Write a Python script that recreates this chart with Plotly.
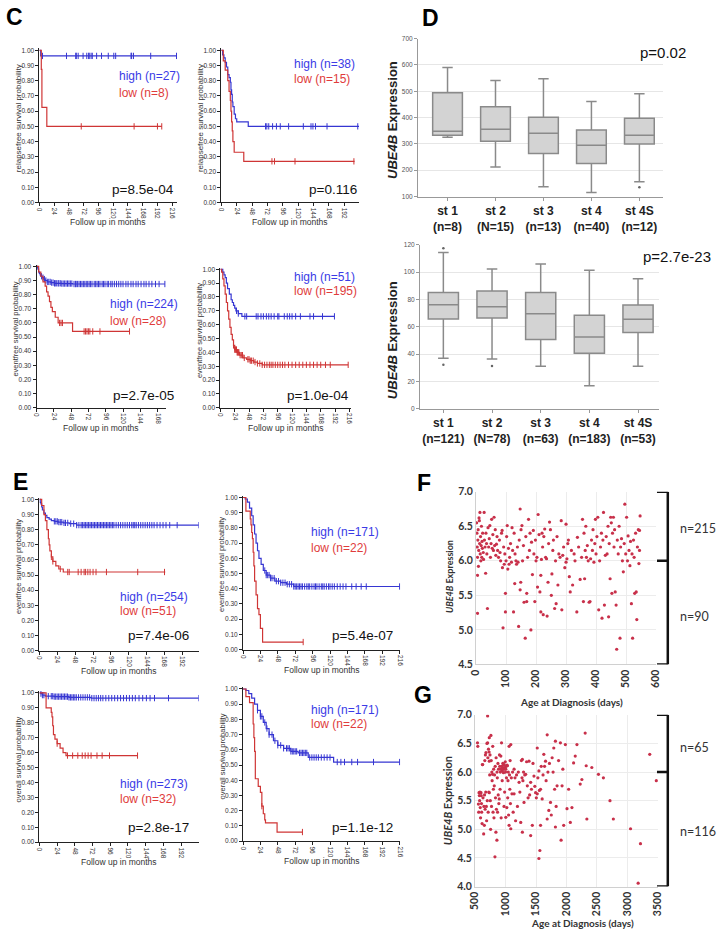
import numpy as np
import plotly.graph_objects as go

W, H = 720, 937
FONT = "Liberation Sans, Arial, sans-serif"
CAL = "Lato, Carlito, sans-serif"
BLUE = "#3636d2"
RED = "#cf3535"
BLUE_T = "#3b3be6"
RED_T = "#e03c3c"

# ---------------- Kaplan-Meier data (months, survival) ----------------
c1_hi_t = [2]
c1_hi_s = [0.963]
c1_hi_end = 223
c1_hi_cens = [5, 44, 59, 60, 63, 71, 77, 80, 81, 84, 86, 93, 101, 112, 121, 124, 149, 150, 153, 181, 223]
c1_lo_t = [3, 4, 12]
c1_lo_s = [0.875, 0.625, 0.5]
c1_lo_end = 199
c1_lo_cens = [68, 154, 192, 199]

c2_hi_t = [2, 4, 6, 8, 10, 12, 14, 15, 16, 17, 18, 20, 22, 24, 42]
c2_hi_s = [0.97, 0.95, 0.92, 0.89, 0.84, 0.82, 0.79, 0.74, 0.71, 0.66, 0.63, 0.58, 0.55, 0.53, 0.50]
c2_hi_end = 215
c2_hi_cens = [69, 71, 74, 80, 86, 92, 105, 128, 140, 143, 147, 165, 213]
c2_lo_t = [3, 6, 10, 12, 14, 15, 16, 17, 18, 20, 35]
c2_lo_s = [0.93, 0.87, 0.80, 0.73, 0.67, 0.60, 0.53, 0.47, 0.40, 0.33, 0.27]
c2_lo_end = 208
c2_lo_cens = [79, 83, 115, 207]

c3_hi_t = [1, 2, 3, 4, 5, 6, 8, 10, 12, 15, 20, 25, 35, 50]
c3_hi_s = [0.99, 0.98, 0.96, 0.95, 0.94, 0.93, 0.92, 0.91, 0.90, 0.89, 0.885, 0.88, 0.878, 0.875]
c3_hi_end = 178
c3_hi_cens = [7, 9, 11, 13, 15, 17, 19, 21, 23, 25, 26, 28, 30, 31, 33, 35, 37, 39, 41, 43, 45, 47, 49, 52,
              54, 55, 57, 59, 61, 63, 65, 67, 69, 71, 73, 75, 77, 80, 82, 84, 86, 88, 91, 93, 95, 98, 100,
              103, 105, 108, 111, 114, 117, 120, 124, 127, 131, 134, 138, 141, 145, 149, 152, 156, 160, 165, 170, 178]
c3_lo_t = [3, 6, 9, 12, 14, 16, 18, 20, 22, 26, 30, 50]
c3_lo_s = [0.96, 0.93, 0.89, 0.86, 0.82, 0.79, 0.75, 0.71, 0.68, 0.64, 0.60, 0.54]
c3_lo_end = 129
c3_lo_cens = [32, 34, 36, 66, 68, 70, 72, 74, 78, 88, 129]

c4_hi_t = [4, 6, 8, 10, 12, 15, 18, 20, 22, 24, 26, 30, 36]
c4_hi_s = [0.98, 0.96, 0.94, 0.90, 0.86, 0.82, 0.78, 0.76, 0.74, 0.72, 0.70, 0.68, 0.66]
c4_hi_end = 191
c4_hi_cens = [27, 30, 41, 44, 60, 63, 68, 72, 77, 81, 85, 90, 96, 98, 107, 112, 116, 120, 126, 134, 150, 156, 171, 191]
c4_lo_t = [2, 4, 6, 8, 10, 12, 14, 16, 18, 20, 22, 24, 28, 32, 38, 44, 50, 56, 62, 70]
c4_lo_s = [0.98, 0.93, 0.88, 0.82, 0.76, 0.70, 0.64, 0.58, 0.53, 0.49, 0.45, 0.42, 0.40, 0.38, 0.36, 0.35, 0.34, 0.33, 0.32, 0.31]
c4_lo_end = 214
c4_lo_cens = [22, 24, 25, 26, 27, 28, 29, 30, 31, 33, 35, 37, 40, 46, 48, 50, 52, 55, 58, 62, 66, 70, 74, 78,
              82, 85, 88, 92, 96, 100, 104, 108, 114, 120, 126, 132, 138, 144, 150, 156, 162, 168, 176, 184, 214]

e1_hi_t = [1, 2, 3, 4, 6, 8, 10, 13, 16, 20, 25, 32, 40, 50]
e1_hi_s = [0.98, 0.97, 0.95, 0.93, 0.91, 0.895, 0.88, 0.87, 0.86, 0.855, 0.85, 0.845, 0.84, 0.83]
e1_hi_end = 214
e1_hi_cens = [20, 22, 24, 26, 28, 30, 33, 35, 38, 42, 46, 50, 53, 56, 58, 60, 62, 64, 66, 68, 70, 72, 74, 76,
              78, 80, 82, 84, 86, 88, 90, 92, 94, 96, 98, 100, 103, 106, 109, 112, 115, 118, 121, 124, 126,
              128, 130, 133, 136, 139, 142, 145, 148, 151, 154, 158, 162, 166, 170, 175, 185, 214]
e1_lo_t = [3, 6, 8, 10, 12, 13, 14, 16, 18, 22, 26, 32]
e1_lo_s = [0.96, 0.90, 0.86, 0.80, 0.74, 0.70, 0.66, 0.62, 0.59, 0.56, 0.54, 0.52]
e1_lo_end = 169
e1_lo_cens = [16, 18, 28, 38, 40, 52, 56, 60, 62, 65, 68, 72, 76, 90, 132, 168]

e2_hi_t = [3, 6, 9, 12, 14, 16, 18, 20, 22, 25, 28, 32, 38, 44, 52, 60, 70]
e2_hi_s = [0.99, 0.97, 0.93, 0.88, 0.82, 0.76, 0.70, 0.65, 0.60, 0.56, 0.52, 0.49, 0.47, 0.45, 0.44, 0.43, 0.415]
e2_hi_end = 216
e2_hi_cens = [30, 32, 34, 36, 38, 40, 43, 46, 49, 52, 55, 58, 61, 64, 67, 70, 72, 74, 76, 78, 80, 82, 85, 88,
              90, 92, 95, 98, 100, 102, 105, 108, 110, 112, 115, 118, 120, 123, 126, 130, 134, 138, 142, 150,
              156, 163, 170, 216]
e2_lo_t = [4, 10, 11, 12, 13, 14, 15, 16, 18, 20, 22, 24, 27]
e2_lo_s = [0.91, 0.86, 0.82, 0.77, 0.73, 0.64, 0.55, 0.45, 0.36, 0.27, 0.23, 0.14, 0.05]
e2_lo_end = 83
e2_lo_cens = [83]

e3_hi_t = [2, 4, 8, 20, 40, 70]
e3_hi_s = [0.995, 0.985, 0.978, 0.975, 0.97, 0.965]
e3_hi_end = 216
e3_hi_cens = [2, 4, 6, 12, 16, 18, 20, 22, 24, 26, 28, 30, 32, 34, 36, 38, 40, 42, 44, 46, 48, 50, 53, 56, 59,
              62, 65, 68, 71, 74, 77, 80, 83, 86, 90, 94, 98, 102, 106, 110, 114, 118, 122, 126, 130, 135, 140,
              145, 150, 156, 175, 216]
e3_lo_t = [9, 16, 17, 18, 19, 21, 24, 28, 32, 36]
e3_lo_s = [0.90, 0.87, 0.84, 0.78, 0.72, 0.69, 0.66, 0.63, 0.60, 0.58]
e3_lo_end = 133
e3_lo_cens = [24, 38, 45, 52, 58, 62, 66, 70, 78, 85, 95, 133]

e4_hi_t = [4, 8, 12, 16, 20, 24, 28, 32, 36, 42, 48, 56, 66, 76, 90, 125]
e4_hi_s = [0.99, 0.97, 0.94, 0.90, 0.86, 0.82, 0.78, 0.74, 0.70, 0.66, 0.63, 0.61, 0.59, 0.58, 0.55, 0.52]
e4_hi_end = 216
e4_hi_cens = [20, 24, 26, 30, 33, 36, 40, 44, 48, 52, 56, 60, 62, 64, 66, 68, 70, 72, 74, 78, 80, 82, 84, 86,
              88, 92, 95, 98, 101, 104, 108, 112, 116, 120, 130, 135, 140, 150, 158, 180, 216]
e4_lo_t = [4, 9, 14, 15, 16, 17, 21, 24, 26, 28, 30, 31, 47]
e4_lo_s = [0.95, 0.91, 0.77, 0.68, 0.59, 0.41, 0.36, 0.32, 0.23, 0.18, 0.14, 0.12, 0.06]
e4_lo_end = 82
e4_lo_cens = [26, 82]

# ---------------- Panel D box statistics ----------------
d1_cats = ["st 1<br>(n=8)", "st 2<br>(N=15)", "st 3<br>(n=13)", "st 4<br>(n=40)", "st 4S<br>(n=12)"]
d1_low = [325, 212, 137, 115, 156]
d1_q1 = [333, 310, 263, 225, 300]
d1_med = [348, 356, 340, 295, 333]
d1_q3 = [494, 441, 401, 353, 397]
d1_up = [590, 541, 547, 461, 490]
d1_out_cat = ["st 4S<br>(n=12)"]
d1_out_val = [135]

d2_cats = ["st 1<br>(n=121)", "st 2<br>(N=78)", "st 3<br>(n=63)", "st 4<br>(n=183)", "st 4S<br>(n=53)"]
d2_low = [37.0, 36.5, 31.2, 16.9, 31.2]
d2_q1 = [65.8, 66.5, 50.8, 40.6, 55.9]
d2_med = [76.2, 74.8, 69.5, 52.5, 65.6]
d2_q3 = [85.2, 86.2, 85.2, 68.5, 76.0]
d2_up = [114.4, 102.3, 106.0, 101.4, 95.2]
d2_out_cat = ["st 1<br>(n=121)", "st 1<br>(n=121)", "st 2<br>(N=78)"]
d2_out_val = [117.6, 32.2, 31.4]

# ---------------- Panel F / G scatter (age days, UBE4B expression) ----------------
f_points = [
    (2, 6.55), (3, 6.40), (4, 6.20), (5, 6.05), (5, 5.79), (5, 5.24), (6, 6.30), (7, 6.45), (8, 5.92), (9, 6.15),
    (10, 6.62), (11, 6.58), (12, 6.25), (13, 6.70), (14, 6.10), (15, 6.35), (16, 6.00), (17, 6.22), (18, 6.50),
    (19, 6.05), (20, 6.28), (21, 6.18), (22, 6.40), (24, 6.12), (25, 6.02), (27, 6.70), (28, 6.30), (30, 6.20),
    (32, 5.82), (33, 6.40), (35, 6.25), (36, 6.10), (38, 5.31), (40, 6.48), (42, 6.20), (44, 6.32), (46, 6.51),
    (48, 6.05), (50, 6.25), (52, 6.60), (54, 6.18), (56, 6.38), (58, 6.15), (60, 6.63), (62, 6.22), (64, 6.45),
    (66, 6.08), (68, 6.24), (70, 6.35), (72, 6.15), (75, 6.05), (78, 6.30), (80, 6.12), (82, 6.00), (85, 6.40),
    (87, 6.44), (88, 5.90), (90, 5.03), (92, 6.20), (94, 5.95), (96, 6.10), (98, 5.53), (98, 5.26), (100, 6.00),
    (102, 6.35), (104, 6.51), (106, 5.88), (108, 6.18), (110, 5.95), (112, 6.05), (115, 6.25), (118, 5.98),
    (120, 6.48), (122, 6.15), (125, 5.26), (127, 6.40), (129, 5.67), (130, 6.10), (133, 6.00), (135, 5.95),
    (138, 6.20), (140, 5.98), (142, 5.05), (144, 6.30), (147, 6.75), (147, 5.58), (149, 5.69), (150, 6.45),
    (153, 6.51), (155, 6.00), (158, 6.22), (160, 5.40), (164, 4.88), (166, 6.35), (169, 5.53), (169, 5.41),
    (172, 6.05), (175, 6.60), (178, 6.15), (180, 6.40), (183, 5.00), (185, 6.27), (188, 5.80), (191, 6.44),
    (193, 6.10), (196, 5.41), (198, 6.30), (200, 6.00), (203, 6.05), (205, 5.62), (207, 6.67), (210, 6.38),
    (213, 5.55), (216, 5.79), (216, 5.26), (218, 6.02), (220, 6.40), (222, 6.20), (224, 5.22), (226, 6.35),
    (229, 6.46), (232, 6.05), (235, 6.03), (237, 5.20), (240, 5.69), (242, 6.25), (245, 6.56), (248, 6.45),
    (251, 5.50), (253, 5.81), (256, 6.15), (258, 6.30), (262, 5.31), (265, 6.00), (267, 5.38), (270, 6.35),
    (273, 5.65), (276, 6.10), (280, 6.05), (284, 6.58), (286, 5.29), (289, 6.08), (292, 6.20), (296, 5.90),
    (300, 6.53), (300, 5.98), (303, 6.03), (306, 6.25), (308, 6.30), (311, 5.77), (314, 5.55), (318, 6.15),
    (322, 5.65), (327, 6.10), (330, 6.00), (336, 5.26), (338, 6.34), (342, 6.20), (347, 5.73), (352, 6.05),
    (355, 6.60), (358, 5.41), (360, 6.40), (362, 5.74), (364, 6.15), (366, 6.50), (368, 6.05), (371, 6.22),
    (374, 6.00), (377, 5.40), (380, 5.41), (382, 6.03), (385, 6.30), (388, 6.15), (390, 6.45), (393, 5.98),
    (396, 6.25), (398, 6.60), (400, 6.10), (403, 6.35), (406, 6.63), (409, 5.29), (412, 6.00), (415, 6.20),
    (418, 6.40), (420, 5.17), (423, 6.30), (425, 6.70), (428, 5.36), (431, 6.08), (434, 6.35), (437, 6.10),
    (440, 6.50), (442, 5.19), (444, 6.25), (447, 5.74), (449, 6.63), (451, 6.55), (453, 5.53), (455, 6.40),
    (458, 6.63), (460, 6.20), (462, 6.45), (464, 5.55), (467, 5.36), (469, 4.72), (471, 6.30), (474, 6.10),
    (477, 6.50), (480, 4.88), (482, 6.20), (485, 6.32), (488, 6.00), (491, 5.84), (494, 6.25), (496, 6.82),
    (499, 6.10), (502, 6.63), (505, 6.00), (507, 6.36), (510, 6.15), (513, 5.93), (515, 6.28), (518, 5.38),
    (520, 6.10), (522, 4.88), (525, 6.30), (527, 6.05), (529, 5.53), (532, 6.40), (534, 5.55), (536, 5.15),
    (538, 6.20), (541, 6.45), (543, 5.96), (545, 6.44), (545, 6.15), (547, 6.65),
]
f_age = [p[0] for p in f_points]
f_expr = [p[1] for p in f_points]

g_points = [
    (540, 6.51), (545, 6.45), (555, 5.44), (560, 5.30), (565, 5.64), (570, 5.59), (575, 5.50), (580, 5.65),
    (585, 5.38), (590, 5.20), (598, 5.64), (600, 5.59), (605, 5.45), (608, 5.30), (615, 5.10), (620, 6.13),
    (625, 6.13), (630, 5.55), (641, 4.92), (645, 5.40), (652, 5.07), (655, 5.60), (660, 6.20), (665, 5.35),
    (670, 6.30), (675, 5.65), (679, 6.34), (685, 5.40), (690, 5.15), (695, 6.50), (700, 5.50), (706, 6.98),
    (706, 6.51), (710, 6.25), (715, 5.30), (720, 6.40), (725, 5.65), (730, 6.35), (733, 6.60), (733, 6.19),
    (733, 5.64), (740, 5.95), (745, 6.30), (750, 5.50), (755, 5.00), (760, 6.64), (765, 6.20), (770, 5.40),
    (775, 6.00), (780, 5.85), (787, 5.96), (790, 6.45), (795, 5.30), (800, 5.70), (805, 6.05), (810, 5.20),
    (815, 5.76), (820, 5.95), (826, 4.52), (830, 6.10), (835, 5.55), (842, 4.95), (845, 6.25), (850, 5.35),
    (858, 4.81), (860, 6.00), (865, 5.90), (869, 5.30), (875, 6.15), (880, 5.60), (885, 6.05), (890, 5.45),
    (896, 5.53), (900, 6.30), (905, 6.10), (910, 5.70), (915, 6.00), (920, 6.05), (923, 6.28), (928, 5.20),
    (934, 6.51), (938, 6.10), (942, 6.02), (945, 5.85), (950, 6.08), (955, 6.15), (960, 6.05), (966, 5.99),
    (970, 6.12), (975, 5.40), (977, 6.13), (980, 6.05), (985, 5.65), (990, 6.08), (995, 6.18), (1000, 6.00),
    (1004, 6.05), (1004, 5.21), (1010, 6.10), (1015, 5.90), (1021, 5.38), (1025, 6.12), (1031, 6.11),
    (1035, 5.55), (1040, 5.85), (1045, 6.00), (1050, 5.25), (1058, 6.45), (1058, 5.07), (1065, 5.95),
    (1070, 5.70), (1075, 6.20), (1080, 5.45), (1086, 6.48), (1086, 5.01), (1095, 5.90), (1105, 5.62),
    (1115, 6.00), (1125, 5.30), (1140, 6.05), (1140, 5.62), (1155, 5.90), (1165, 5.15), (1180, 5.95),
    (1195, 5.40), (1210, 6.00), (1222, 5.82), (1235, 5.65), (1249, 5.12), (1260, 6.20), (1270, 5.90),
    (1276, 6.22), (1276, 4.95), (1285, 5.85), (1295, 6.00), (1303, 5.47), (1315, 5.95), (1330, 5.96),
    (1345, 6.18), (1357, 5.76), (1370, 5.55), (1385, 6.19), (1395, 5.60), (1412, 5.82), (1412, 4.89),
    (1425, 5.70), (1439, 5.07), (1450, 6.15), (1466, 5.93), (1480, 5.75), (1493, 5.64), (1505, 5.55),
    (1520, 6.42), (1520, 5.62), (1530, 5.90), (1547, 6.02), (1547, 4.49), (1555, 5.68), (1563, 4.63),
    (1574, 5.70), (1574, 5.07), (1585, 6.10), (1601, 5.53), (1615, 5.95), (1628, 6.31), (1640, 6.10),
    (1656, 6.19), (1665, 5.85), (1683, 6.65), (1683, 5.18), (1695, 6.00), (1710, 5.33), (1720, 6.15),
    (1737, 5.47), (1750, 5.25), (1764, 6.25), (1780, 6.00), (1791, 6.42), (1805, 5.70), (1818, 6.54),
    (1818, 5.04), (1830, 5.40), (1845, 5.76), (1870, 6.20), (1900, 6.51), (1911, 4.81), (1927, 5.76),
    (1940, 6.05), (1954, 5.07), (1981, 6.48), (2008, 5.36), (2035, 5.70), (2062, 5.12), (2089, 5.38),
    (2116, 6.16), (2143, 6.28), (2171, 6.48), (2225, 5.79), (2252, 5.87), (2306, 6.68), (2323, 6.11),
    (2334, 5.18), (2415, 6.08), (2524, 5.96), (2605, 5.90), (2713, 5.50), (2768, 5.18), (3050, 5.01),
    (3175, 4.06), (3213, 4.75), (3365, 6.31), (3473, 5.85),
]
g_age = [p[0] for p in g_points]
g_expr = [p[1] for p in g_points]

f_split = 6.0
f_labels = ["n=215", "n=90"]
g_labels = ["n=65", "n=116"]

# ---------------- helpers ----------------
fig = go.Figure()
layout = {}
ann = []
shapes = []


def names(i):
    return ("x", "y") if i == 1 else (f"x{i}", f"y{i}")


def keys(i):
    return ("xaxis", "yaxis") if i == 1 else (f"xaxis{i}", f"yaxis{i}")


def dx(a, b):
    return [a / W, b / W]


def dy(top, bottom):
    return [1 - bottom / H, 1 - top / H]


def pann(text, x, y, size, color="#111", xanchor="center", yanchor="middle", bold=False, family=FONT, angle=0):
    ann.append(dict(text=text, x=x / W, y=1 - y / H, xref="paper", yref="paper", showarrow=False,
                    xanchor=xanchor, yanchor=yanchor, textangle=angle,
                    font=dict(size=size, color=color, family=family, weight="bold" if bold else "normal")))


def step_xy(t, s, end):
    return [0] + list(t) + [end], [1.0] + list(s) + [s[-1]]


def surv_at(t, s, c):
    i = int(np.searchsorted(np.array(t), c, side="right"))
    return 1.0 if i == 0 else s[i - 1]


def add_km(ax, px, py, xmax, tmax, ylab, hi, lo, hi_txt, lo_txt, p_txt, tx, hy, ly, p_x, p_y, ylab_size):
    xa, ya = names(ax)
    xk, yk = keys(ax)
    ymax = 1.012
    layout[xk] = dict(domain=dx(*px), range=[0, xmax], anchor=ya, tickvals=list(range(0, tmax + 1, 24)),
                      tickangle=90, tickfont=dict(size=6.5, color="#333", family=FONT), showline=True,
                      linecolor="#222", linewidth=1, ticks="outside", ticklen=3, tickcolor="#222",
                      showgrid=False, zeroline=False)
    layout[yk] = dict(domain=dy(*py), range=[0, ymax], anchor=xa, tickvals=[i / 10 for i in range(11)],
                      tickformat=".2f", tickfont=dict(size=6.5, color="#333", family=FONT), showline=True,
                      linecolor="#222", linewidth=1, ticks="outside", ticklen=3, tickcolor="#222",
                      showgrid=False, zeroline=False)
    for (t, s, end, cens), col in ((hi, BLUE), (lo, RED)):
        x, y = step_xy(t, s, end)
        fig.add_trace(go.Scatter(x=x, y=y, mode="lines", line=dict(color=col, width=1.2, shape="hv"),
                                 xaxis=xa, yaxis=ya, hoverinfo="skip"))
        fig.add_trace(go.Scatter(x=cens, y=[surv_at(t, s, c) for c in cens], mode="markers",
                                 marker=dict(symbol="line-ns", size=4.5, line=dict(color=col, width=1)),
                                 xaxis=xa, yaxis=ya, hoverinfo="skip"))
    ref = dict(xref=f"{xa} domain", yref=f"{ya} domain", showarrow=False)
    ann.append(dict(text=hi_txt, x=tx / xmax, y=hy / ymax, xanchor="left", yanchor="middle",
                    font=dict(size=12, color=BLUE_T, family=FONT), **ref))
    ann.append(dict(text=lo_txt, x=tx / xmax, y=ly / ymax, xanchor="left", yanchor="middle",
                    font=dict(size=12, color=RED_T, family=FONT), **ref))
    ann.append(dict(text=p_txt, x=p_x / xmax, y=p_y / ymax, xanchor="right", yanchor="middle",
                    font=dict(size=13.5, color="#111", family=FONT), **ref))
    ann.append(dict(text="Follow up in months", x=0.5, y=0, yshift=-20, xanchor="center", yanchor="middle",
                    font=dict(size=8.5, color="#333", family=FONT), **ref))
    ann.append(dict(text=ylab, x=0, y=0.55, xshift=-21, textangle=-90, xanchor="center", yanchor="middle",
                    font=dict(size=ylab_size, color="#333", family=FONT), **ref))


RF = "relapsefree survival probability"
EF = "eventfree survival probability"
OS = "overall survival probability"

add_km(1, (33, 173), (43, 199), 224, 216, RF,
       (c1_hi_t, c1_hi_s, c1_hi_end, c1_hi_cens), (c1_lo_t, c1_lo_s, c1_lo_end, c1_lo_cens),
       "high (n=27)", "low (n=8)", "p=8.5e-04", 126, 0.83, 0.72, 222, 0.083, 8)
add_km(2, (218, 358), (43, 199), 215, 192, RF,
       (c2_hi_t, c2_hi_s, c2_hi_end, c2_hi_cens), (c2_lo_t, c2_lo_s, c2_lo_end, c2_lo_cens),
       "high (n=38)", "low (n=15)", "p=0.116", 110, 0.907, 0.81, 215, 0.083, 8)
add_km(3, (30, 162), (262, 407), 180, 168, EF,
       (c3_hi_t, c3_hi_s, c3_hi_end, c3_hi_cens), (c3_lo_t, c3_lo_s, c3_lo_end, c3_lo_cens),
       "high (n=224)", "low (n=28)", "p=2.7e-05", 99, 0.731, 0.617, 194, 0.09, 7.5)
add_km(4, (217, 350), (265, 407), 219, 216, EF,
       (c4_hi_t, c4_hi_s, c4_hi_end, c4_hi_cens), (c4_lo_t, c4_lo_s, c4_lo_end, c4_lo_cens),
       "high (n=51)", "low (n=195)", "p=1.0e-04", 120, 0.947, 0.842, 219, 0.09, 7.5)
add_km(7, (33, 195), (498, 653), 214, 192, EF,
       (e1_hi_t, e1_hi_s, e1_hi_end, e1_hi_cens), (e1_lo_t, e1_lo_s, e1_lo_end, e1_lo_cens),
       "high (n=254)", "low (n=51)", "p=7.4e-06", 106, 0.358, 0.261, 204, 0.10, 7.5)
add_km(8, (240, 400), (496, 652), 217, 216, EF,
       (e2_hi_t, e2_hi_s, e2_hi_end, e2_hi_cens), (e2_lo_t, e2_lo_s, e2_lo_end, e2_lo_cens),
       "high (n=171)", "low (n=22)", "p=5.4e-07", 91, 0.776, 0.67, 210, 0.093, 7.5)
add_km(9, (33, 195), (694, 847), 216, 192, OS,
       (e3_hi_t, e3_hi_s, e3_hi_end, e3_hi_cens), (e3_lo_t, e3_lo_s, e3_lo_end, e3_lo_cens),
       "high (n=273)", "low (n=32)", "p=2.8e-17", 106, 0.389, 0.291, 205, 0.095, 7.5)
add_km(10, (240, 400), (690, 846), 217, 216, OS,
       (e4_hi_t, e4_hi_s, e4_hi_end, e4_hi_cens), (e4_lo_t, e4_lo_s, e4_lo_end, e4_lo_cens),
       "high (n=171)", "low (n=22)", "p=1.1e-12", 91, 0.865, 0.769, 210, 0.087, 7.5)


# ---------------- Panel D ----------------
def add_box(ax, px, py, xr, cats, low, q1, med, q3, up, oc, ov, yr, dt):
    xa, ya = names(ax)
    xk, yk = keys(ax)
    layout[xk] = dict(domain=dx(*px), range=xr, anchor=ya, type="category",
                      tickfont=dict(size=12, color="#222", family=FONT, weight="bold"),
                      showline=True, linecolor="#999", ticks="outside", ticklen=3, tickcolor="#999",
                      showgrid=False, zeroline=False)
    layout[yk] = dict(domain=dy(*py), range=yr, anchor=xa, dtick=dt, tick0=0,
                      tickfont=dict(size=6.5, color="#555", family=FONT), showline=True, linecolor="#999",
                      ticks="outside", ticklen=3, tickcolor="#999", showgrid=True, gridcolor="#e6e6e6",
                      zeroline=False)
    fig.add_trace(go.Box(x=cats, q1=q1, median=med, q3=q3, lowerfence=low, upperfence=up,
                         fillcolor="#d3d3d3", line=dict(color="#8a8a8a", width=1.5), width=0.62,
                         whiskerwidth=0.35, boxpoints=False, xaxis=xa, yaxis=ya, hoverinfo="skip"))
    fig.add_trace(go.Scatter(x=oc, y=ov, mode="markers", marker=dict(size=2.5, color="#666"),
                             xaxis=xa, yaxis=ya, hoverinfo="skip"))


add_box(5, (418, 667), (33, 193), [-0.615, 4.49], d1_cats, d1_low, d1_q1, d1_med, d1_q3, d1_up,
        d1_out_cat, d1_out_val, [100, 700], 100)
add_box(6, (420, 663), (242, 408), [-0.48, 4.43], d2_cats, d2_low, d2_q1, d2_med, d2_q3, d2_up,
        d2_out_cat, d2_out_val, [0, 120], 20)
pann("<i>UBE4B</i> Expression", 392, 115, 13, color="#222", bold=True, angle=-90)
pann("<i>UBE4B</i> Expression", 392, 338, 13, color="#222", bold=True, angle=-90)
pann("p=0.02", 693, 47, 15, color="#111", xanchor="right")
pann("p=2.7e-23", 718, 254, 15, color="#111", xanchor="right")


# ---------------- Panels F / G ----------------
def add_scatter(ax, px, py, xr, xd, yr, ages, expr):
    xa, ya = names(ax)
    xk, yk = keys(ax)
    tf = dict(size=10.5, color="#333", family=CAL, weight="bold")
    layout[xk] = dict(domain=dx(*px), range=xr, anchor=ya, dtick=xd, tick0=0, tickangle=-90, tickfont=tf,
                      showgrid=True, gridcolor="#ececec", showline=True, linecolor="#d0d0d0",
                      zeroline=False, ticks="")
    layout[yk] = dict(domain=dy(*py), range=yr, anchor=xa, dtick=0.5, tickformat=".1f", tickfont=tf,
                      showgrid=True, gridcolor="#ececec", showline=True, linecolor="#d0d0d0",
                      zeroline=False, ticks="")
    fig.add_trace(go.Scatter(x=ages, y=expr, mode="markers", marker=dict(size=3.2, color="#c8304a"),
                             xaxis=xa, yaxis=ya, hoverinfo="skip"))


add_scatter(11, (477, 660), (492, 667), [0, 600], 100, [4.5, 7.0], f_age, f_expr)
add_scatter(12, (476, 662), (718, 892), [500, 3500], 500, [4.0, 7.0], g_age, g_expr)

for ya, top, bot in (("y11", 7.0, 4.5), ("y12", 7.0, 4.0)):
    xb, xs = 672 / W, 661 / W
    ln = dict(color="#111", width=2.5)
    shapes.append(dict(type="line", xref="paper", yref=ya, x0=xb, x1=xb, y0=bot, y1=top, line=ln))
    for yv in (top, f_split, bot):
        shapes.append(dict(type="line", xref="paper", yref=ya, x0=xs, x1=xb, y0=yv, y1=yv, line=ln))

pann(f_labels[0], 682, 529, 12.5, color="#333", xanchor="left", family=CAL)
pann(f_labels[1], 682, 618, 12.5, color="#333", xanchor="left", family=CAL)
pann(g_labels[0], 682, 751, 12.5, color="#333", xanchor="left", family=CAL)
pann(g_labels[1], 682, 836, 12.5, color="#333", xanchor="left", family=CAL)
pann("Age at Diagnosis (days)", 574, 705, 10, color="#333", bold=True, family=CAL)
pann("Age at Diagnosis (days)", 585, 929, 10, color="#333", bold=True, family=CAL)
pann("<i>UBE4B</i> Expression", 450, 578, 9, color="#333", bold=True, family=CAL, angle=-90)
pann("<i>UBE4B</i> Expression", 448, 805, 11, color="#333", bold=True, family=CAL, angle=-90)

# ---------------- Panel letters ----------------
for letter, lx, ly in (("C", 8, 11), ("D", 431, 12), ("E", 14, 482), ("F", 424, 483), ("G", 423, 698)):
    pann(letter, lx, ly, 23, color="#000", bold=True)

fig.update_layout(width=W, height=H, autosize=False, margin=dict(l=0, r=0, t=0, b=0),
                  paper_bgcolor="white", plot_bgcolor="white", showlegend=False,
                  annotations=ann, shapes=shapes, **layout)
fig.write_html("out.html", config={"displayModeBar": False},
               post_script="document.body.style.margin='0';document.body.style.overflow='hidden';")
